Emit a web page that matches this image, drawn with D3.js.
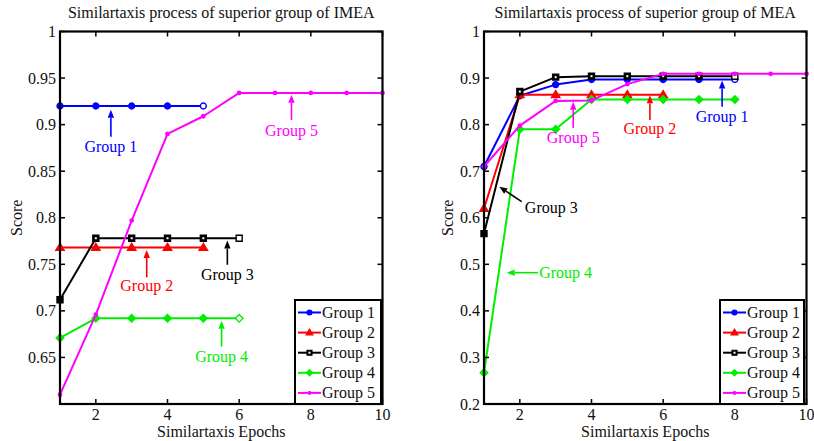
<!DOCTYPE html>
<html>
<head>
<meta charset="utf-8">
<script src="https://cdn.jsdelivr.net/npm/d3@7/dist/d3.min.js"></script>
<style>
  html, body { margin: 0; padding: 0; background: #fff; }
  svg { display: block; }
</style>
</head>
<body>
<svg id="chart" width="814" height="441" font-family="'Liberation Serif', 'Times New Roman', 'DejaVu Serif', serif"></svg>
<script>
// ---- data -------------------------------------------------------------
const groupNames = ["Group 1", "Group 2", "Group 3", "Group 4", "Group 5"];
const groupColors = ["#0000ff", "#ff0000", "#000000", "#00ee00", "#ff00ff"];
const groupMarkers = ["circle", "triangle", "square", "diamond", "point"];

// IMEA scores per epoch (starting at epoch 1)
const imeaG1 = [0.92, 0.92, 0.92, 0.92, 0.92];
const imeaG2 = [0.768, 0.768, 0.768, 0.768, 0.768];
const imeaG3 = [0.712, 0.778, 0.778, 0.778, 0.778, 0.778];
const imeaG4 = [0.671, 0.692, 0.692, 0.692, 0.692, 0.692];
const imeaG5 = [0.61, 0.696, 0.797, 0.89, 0.909, 0.934, 0.934, 0.934, 0.934, 0.934];

// MEA scores per epoch (starting at epoch 1)
const meaG1 = [0.71, 0.862, 0.886, 0.897, 0.897, 0.897, 0.897, 0.897];
const meaG2 = [0.62, 0.864, 0.864, 0.864, 0.864, 0.864];
const meaG3 = [0.566, 0.871, 0.902, 0.904, 0.904, 0.904, 0.904, 0.904];
const meaG4 = [0.267, 0.79, 0.79, 0.854, 0.854, 0.854, 0.854, 0.854];
const meaG5 = [0.71, 0.798, 0.851, 0.852, 0.887, 0.909, 0.909, 0.909, 0.909, 0.909];

const xTicks = [2, 4, 6, 8, 10];
const imeaYTicks = [0.65, 0.7, 0.75, 0.8, 0.85, 0.9, 0.95, 1];
const meaYTicks = [0.2, 0.3, 0.4, 0.5, 0.6, 0.7, 0.8, 0.9, 1];

// callouts: group index, arrow (data coords), label position
const imeaNotes = [
  { g: 0, x: 2.42, tip: 0.916, tail: 0.887, ty: 0.871 },
  { g: 4, x: 7.46, tip: 0.932, tail: 0.905, ty: 0.888 },
  { g: 1, x: 3.42, tip: 0.7655, tail: 0.736, ty: 0.721 },
  { g: 2, x: 5.67, tip: 0.7755, tail: 0.7495, ty: 0.733 },
  { g: 3, x: 5.51, tip: 0.6895, tail: 0.6617, ty: 0.6456 }
];
const meaNotes = [
  { g: 4, x: 3.49, tip: 0.849, tail: 0.793, ty: 0.7605 },
  { g: 1, x: 5.63, tip: 0.863, tail: 0.81, ty: 0.779 },
  { g: 0, x: 7.645, tip: 0.895, tail: 0.8385, ty: 0.806 },
  { g: 2, x1: 2.05, y1: 0.6345, x2: 1.427, y2: 0.6667, tx: 2.14, ty: 0.61 },
  { g: 3, x1: 2.506, y1: 0.482, x2: 1.633, y2: 0.482, tx: 2.54, ty: 0.4712 }
];

// ---- drawing ----------------------------------------------------------
const svg = d3.select("#chart");
const FONT = 16;
const SERIF = "'Liberation Serif', 'Times New Roman', 'DejaVu Serif', serif";

function label(sel) {
  return sel.append("text").attr("font-family", SERIF).attr("font-size", FONT);
}

function markerPath(type) {
  switch (type) {
    case "circle": return d3.symbol(d3.symbolCircle, 28)();
    case "triangle": return "M0,-4.2L4.2,2.8L-4.2,2.8Z";
    case "square": return "M-3,-3H3V3H-3Z";
    case "diamond": return "M0,-3.8L3.8,0L0,3.8L-3.8,0Z";
    default: return d3.symbol(d3.symbolCircle, 9)();
  }
}

function arrow(g, x1, y1, x2, y2, color) {
  // shaft from (x1,y1) to tip (x2,y2) with a filled head
  const ang = Math.atan2(y2 - y1, x2 - x1);
  const len = 8, half = 3.2;
  const bx = x2 - len * Math.cos(ang), by = y2 - len * Math.sin(ang);
  g.append("line")
    .attr("x1", x1).attr("y1", y1).attr("x2", bx).attr("y2", by)
    .attr("stroke", color).attr("stroke-width", 1.6);
  const px = -Math.sin(ang) * half, py = Math.cos(ang) * half;
  g.append("path")
    .attr("d", `M${x2},${y2}L${bx + px},${by + py}L${bx - px},${by - py}Z`)
    .attr("fill", color);
}

function drawPanel(cfg) {
  const x = d3.scaleLinear().domain([1, 10]).range([cfg.left, cfg.right]);
  const y = d3.scaleLinear().domain(cfg.yDomain).range([cfg.bottom, cfg.top]);
  const g = svg.append("g");

  // series
  cfg.series.forEach((vals, i) => {
    const pts = vals.map((v, k) => [k + 1, v]);
    const line = d3.line().x(d => x(d[0])).y(d => y(d[1]));
    const sg = g.append("g");
    sg.append("path").attr("d", line(pts))
      .attr("fill", "none").attr("stroke", groupColors[i])
      .attr("stroke-width", 2).attr("stroke-linejoin", "round");
    sg.selectAll("path.mk").data(pts).enter().append("path")
      .attr("class", "mk")
      .attr("d", markerPath(groupMarkers[i]))
      .attr("transform", d => `translate(${x(d[0])},${y(d[1])})`)
      .attr("fill", (d, k) => (cfg.hollowLast[i] && k === pts.length - 1) ? "#fff" : groupColors[i])
      .attr("stroke", groupColors[i]).attr("stroke-width", 1.4);
    if (groupMarkers[i] === "square") {
      sg.selectAll("rect.in").data(pts).enter().append("rect")
        .attr("x", d => x(d[0]) - 1).attr("y", d => y(d[1]) - 1)
        .attr("width", 2).attr("height", 2).attr("fill", "#fff");
    }
  });

  // callouts
  cfg.notes.forEach(n => {
    const c = groupColors[n.g];
    if (n.x !== undefined) {
      arrow(g, x(n.x), y(n.tail), x(n.x), y(n.tip), c);
      label(g).attr("x", x(n.x)).attr("y", y(n.ty))
        .attr("text-anchor", "middle").attr("fill", c).text(groupNames[n.g]);
    } else {
      arrow(g, x(n.x1), y(n.y1), x(n.x2), y(n.y2), c);
      label(g).attr("x", x(n.tx)).attr("y", y(n.ty))
        .attr("text-anchor", "start").attr("fill", c).text(groupNames[n.g]);
    }
  });

  // axes box with inward ticks on all four sides
  const ax = svg.append("g");
  const tl = 5;
  cfg.yTicks.forEach(t => {
    ax.append("line").attr("x1", cfg.left).attr("x2", cfg.left + tl)
      .attr("y1", y(t)).attr("y2", y(t)).attr("stroke", "#000").attr("stroke-width", 1.5);
    ax.append("line").attr("x1", cfg.right).attr("x2", cfg.right - tl)
      .attr("y1", y(t)).attr("y2", y(t)).attr("stroke", "#000").attr("stroke-width", 1.5);
    label(ax).attr("x", cfg.left - 4).attr("y", y(t) + 5.5)
      .attr("text-anchor", "end").attr("fill", "#111").text(String(t));
  });
  xTicks.forEach(t => {
    ax.append("line").attr("x1", x(t)).attr("x2", x(t))
      .attr("y1", cfg.bottom).attr("y2", cfg.bottom - tl).attr("stroke", "#000").attr("stroke-width", 1.5);
    ax.append("line").attr("x1", x(t)).attr("x2", x(t))
      .attr("y1", cfg.top).attr("y2", cfg.top + tl).attr("stroke", "#000").attr("stroke-width", 1.5);
    label(ax).attr("x", x(t)).attr("y", cfg.bottom + 16)
      .attr("text-anchor", "middle").attr("fill", "#111").text(String(t));
  });
  ax.append("rect").attr("x", cfg.left).attr("y", cfg.top)
    .attr("width", cfg.right - cfg.left).attr("height", cfg.bottom - cfg.top)
    .attr("fill", "none").attr("stroke", "#000").attr("stroke-width", 2.2);

  // legend
  const lg = svg.append("g");
  lg.append("rect").attr("x", cfg.legX).attr("y", cfg.legY)
    .attr("width", cfg.legW).attr("height", 104)
    .attr("fill", "#fff").attr("stroke", "#000").attr("stroke-width", 2);
  groupNames.forEach((name, i) => {
    const ry = cfg.legY + 12.5 + i * 20.1;
    lg.append("line").attr("x1", cfg.legX + 3).attr("x2", cfg.legX + 26)
      .attr("y1", ry).attr("y2", ry).attr("stroke", groupColors[i]).attr("stroke-width", 2);
    lg.append("path").attr("d", markerPath(groupMarkers[i]))
      .attr("transform", `translate(${cfg.legX + 14.5},${ry}) scale(0.85)`)
      .attr("fill", groupColors[i]).attr("stroke", groupColors[i]).attr("stroke-width", 1.2);
    if (groupMarkers[i] === "square") {
      lg.append("rect").attr("x", cfg.legX + 13.5).attr("y", ry - 1)
        .attr("width", 2).attr("height", 2).attr("fill", "#fff");
    }
    label(lg).attr("x", cfg.legX + 27).attr("y", ry + 5.5)
      .attr("fill", "#111").text(name);
  });

  // titles
  const cx = (cfg.left + cfg.right) / 2;
  label(svg).attr("x", cx).attr("y", 18).attr("text-anchor", "middle")
    .attr("fill", "#111").text(cfg.title);
  label(svg).attr("x", cx).attr("y", 437).attr("text-anchor", "middle")
    .attr("fill", "#111").text("Similartaxis Epochs");
  label(svg).attr("transform", `translate(${cfg.yLabelX},${(cfg.top + cfg.bottom) / 2}) rotate(-90)`)
    .attr("text-anchor", "middle").attr("fill", "#111").text("Score");
}

drawPanel({
  left: 60, right: 382.5, top: 31.5, bottom: 404,
  yDomain: [0.6, 1], yTicks: imeaYTicks,
  series: [imeaG1, imeaG2, imeaG3, imeaG4, imeaG5],
  hollowLast: [true, false, true, true, false],
  notes: imeaNotes,
  legX: 295, legY: 300, legW: 86,
  title: "Similartaxis process of superior group of IMEA",
  yLabelX: 22
});

drawPanel({
  left: 484, right: 806.5, top: 31.5, bottom: 404,
  yDomain: [0.2, 1], yTicks: meaYTicks,
  series: [meaG1, meaG2, meaG3, meaG4, meaG5],
  hollowLast: [true, false, true, false, false],
  notes: meaNotes,
  legX: 720, legY: 300, legW: 84,
  title: "Similartaxis process of superior group of MEA",
  yLabelX: 453
});
</script>
</body>
</html>
